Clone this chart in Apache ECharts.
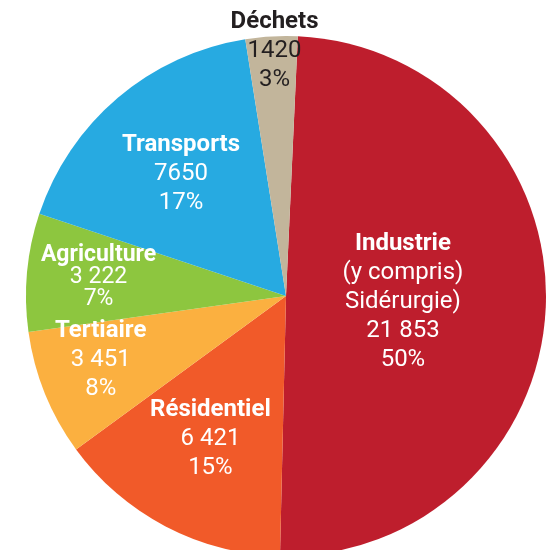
<!DOCTYPE html>
<html>
<head>
<meta charset="utf-8">
<script src="https://cdn.jsdelivr.net/npm/echarts@6/dist/echarts.min.js"></script>
<style>
html, body { margin: 0; padding: 0; background: #fff; }
#main { width: 548px; height: 550px; }
</style>
</head>
<body>
<div id="main"></div>
<script>
var sectors = ['Industrie\n(y compris)\nSidérurgie)', 'Résidentiel', 'Tertiaire', 'Agriculture', 'Transports', 'Déchets'];
var emissions = [21853, 6421, 3451, 3222, 7650, 1420];
var valueLabels = ['21 853', '6 421', '3 451', '3 222', '7650', '1420'];

var colors = ['#BE1E2D', '#F15A29', '#FBB040', '#8DC63F', '#27AAE1', '#C2B59B'];
var textColors = ['#fff', '#fff', '#fff', '#fff', '#fff', '#231F20'];
var labelOffsets = [[-16, 1], [-14, 25], [-62, 14], [-55, -7], [-19, -21], [-4, -112]];
var fontSizes = [24, 24, 24, 23, 24, 24];
var lineHeights = [29, 29, 29, 22, 29, 29];

var myChart = echarts.init(document.getElementById('main'));

var pieData = sectors.map(function (name, i) {
    return {
        name: name,
        value: emissions[i],
        itemStyle: { color: colors[i] },
        label: {
            color: textColors[i],
            offset: labelOffsets[i],
            rich: {
                b: { fontWeight: 'bold', fontSize: fontSizes[i], lineHeight: lineHeights[i], color: textColors[i] },
                n: { fontSize: fontSizes[i], lineHeight: lineHeights[i], color: textColors[i] }
            }
        }
    };
});

var option = {
    animation: false,
    series: [{
        type: 'pie',
        center: [286, 296],
        radius: 260,
        startAngle: 87.4,
        clockwise: true,
        silent: true,
        label: {
            show: true,
            position: 'inside',
            fontFamily: 'Roboto',
            align: 'center',
            formatter: function (p) {
                var lines = p.name.split('\n');
                var s = '{b|' + lines[0] + '}';
                for (var i = 1; i < lines.length; i++) {
                    s += '\n{n|' + lines[i] + '}';
                }
                s += '\n{n|' + valueLabels[p.dataIndex] + '}';
                s += '\n{n|' + Math.round(p.percent) + '%}';
                return s;
            }
        },
        labelLine: { show: false },
        data: pieData
    }]
};

myChart.setOption(option);
</script>
</body>
</html>
